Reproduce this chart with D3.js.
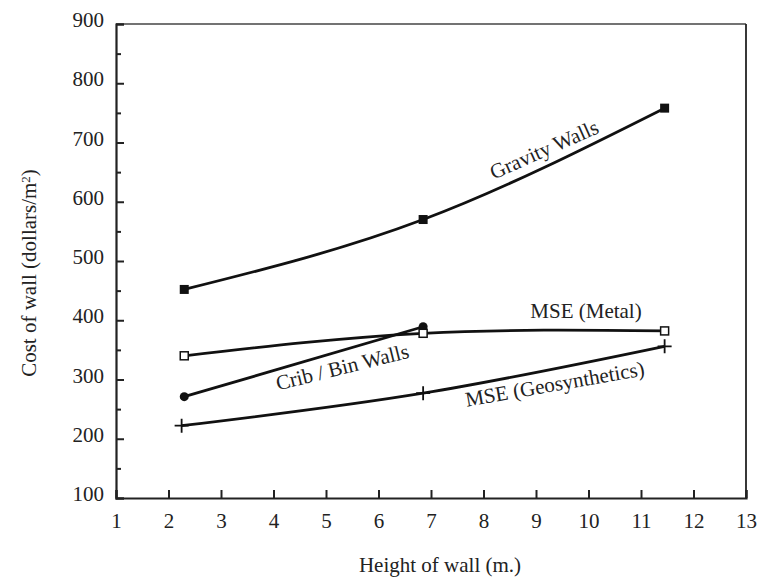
<!DOCTYPE html>
<html>
<head>
<meta charset="utf-8">
<script src="https://d3js.org/d3.v7.min.js"></script>
<style>
  body { margin: 0; background: #fff; }
  text { font-family: "Liberation Serif", "Times New Roman", serif; fill: #222; }
</style>
</head>
<body>
<script>
  // values
  const gravityX = [2.3, 6.85, 11.45];
  const gravityY = [452, 570, 758];
  const metalX = [2.3, 6.85, 11.45];
  const metalY = [340, 378, 382];
  const cribX = [2.3, 6.85];
  const cribY = [271, 389];
  const geoX = [2.25, 6.85, 11.45];
  const geoY = [222, 277, 356];
  const xTicks = [1, 2, 3, 4, 5, 6, 7, 8, 9, 10, 11, 12, 13];
  const yTicks = [100, 200, 300, 400, 500, 600, 700, 800, 900];

  const width = 760, height = 577;
  const plotL = 116, plotR = 746, plotT = 24, plotB = 498;

  var svg = d3.select("body").append("svg")
    .attr("width", width)
    .attr("height", height);

  var x = d3.scaleLinear().domain([1, 13]).range([plotL, plotR]);
  var y = d3.scaleLinear().domain([100, 900]).range([plotB, plotT]);

  // frame
  svg.append("line").attr("x1", plotL).attr("x2", plotR).attr("y1", plotT).attr("y2", plotT)
    .attr("stroke", "#444").attr("stroke-width", 1.5);
  svg.append("line").attr("x1", plotR).attr("x2", plotR).attr("y1", plotT).attr("y2", plotB)
    .attr("stroke", "#222").attr("stroke-width", 1.8);

  // axes with inward ticks
  var xAxis = svg.append("g")
    .attr("transform", "translate(0," + plotB + ")")
    .call(d3.axisBottom(x).tickValues(xTicks).tickSize(-8).tickPadding(15).tickFormat(d3.format("d")));
  var yAxis = svg.append("g")
    .attr("transform", "translate(" + plotL + ",0)")
    .call(d3.axisLeft(y).tickValues(yTicks).tickSize(-8).tickPadding(12).tickFormat(d3.format("d")));
  // minor y ticks
  svg.append("g")
    .attr("transform", "translate(" + plotL + ",0)")
    .call(d3.axisLeft(y).tickValues(d3.range(150, 900, 100)).tickSize(-5).tickFormat(""))
    .select(".domain").remove();

  svg.selectAll(".domain").attr("stroke", "#222").attr("stroke-width", 2.2);
  svg.selectAll(".tick line").attr("stroke", "#222").attr("stroke-width", 2);
  xAxis.selectAll("text").attr("font-size", "21px").attr("fill", "#222");
  yAxis.selectAll("text").attr("font-size", "21px").attr("fill", "#222").attr("dy", "0.12em");

  // axis titles
  svg.append("text")
    .attr("x", 440).attr("y", 572)
    .attr("text-anchor", "middle")
    .attr("font-size", "21px")
    .text("Height of wall (m.)");
  var yt = svg.append("text")
    .attr("transform", "translate(36,273) rotate(-90)")
    .attr("text-anchor", "middle")
    .attr("font-size", "21px");
  yt.append("tspan").text("Cost of wall (dollars/m");
  yt.append("tspan").attr("dy", "-0.45em").attr("font-size", "13px").text("2");
  yt.append("tspan").attr("dy", "0.3em").text(")");

  var line = d3.line()
    .x(function(d) { return x(d[0]); })
    .y(function(d) { return y(d[1]); })
    .curve(d3.curveNatural);

  function series(xs, ys) {
    return xs.map(function(v, i) { return [v, ys[i]]; });
  }

  var gravity = series(gravityX, gravityY);
  var metal = series(metalX, metalY);
  var crib = series(cribX, cribY);
  var geo = series(geoX, geoY);

  [gravity, metal, crib, geo].forEach(function(s) {
    svg.append("path")
      .datum(s)
      .attr("d", line)
      .attr("fill", "none")
      .attr("stroke", "#111")
      .attr("stroke-width", 2.8);
  });

  // markers
  svg.selectAll(".grav").data(gravity).enter().append("rect")
    .attr("x", function(d) { return x(d[0]) - 4.5; })
    .attr("y", function(d) { return y(d[1]) - 4.5; })
    .attr("width", 9).attr("height", 9)
    .attr("fill", "#111");

  svg.selectAll(".crib").data(crib).enter().append("circle")
    .attr("cx", function(d) { return x(d[0]); })
    .attr("cy", function(d) { return y(d[1]); })
    .attr("r", 4.5)
    .attr("fill", "#111");

  svg.selectAll(".metal").data(metal).enter().append("rect")
    .attr("x", function(d) { return x(d[0]) - 4; })
    .attr("y", function(d) { return y(d[1]) - 4; })
    .attr("width", 8).attr("height", 8)
    .attr("fill", "#fff")
    .attr("stroke", "#111")
    .attr("stroke-width", 1.5);

  svg.selectAll(".geo").data(geo).enter().append("path")
    .attr("d", function(d) {
      var cx = x(d[0]), cy = y(d[1]);
      return "M" + (cx - 7) + "," + cy + "H" + (cx + 7) + "M" + cx + "," + (cy - 7) + "V" + (cy + 7);
    })
    .attr("stroke", "#111")
    .attr("stroke-width", 1.8);

  // curve labels
  function label(txt, cx, cy, angle) {
    svg.append("text")
      .attr("transform", "translate(" + cx + "," + cy + ") rotate(" + angle + ")")
      .attr("text-anchor", "middle")
      .attr("font-size", "21px")
      .text(txt);
  }
  label("Gravity Walls", 547, 156, -24);
  label("MSE (Metal)", 586, 318, 0);
  label("Crib / Bin Walls", 344, 374, -14);
  label("MSE (Geosynthetics)", 556, 391, -10);
</script>
</body>
</html>
